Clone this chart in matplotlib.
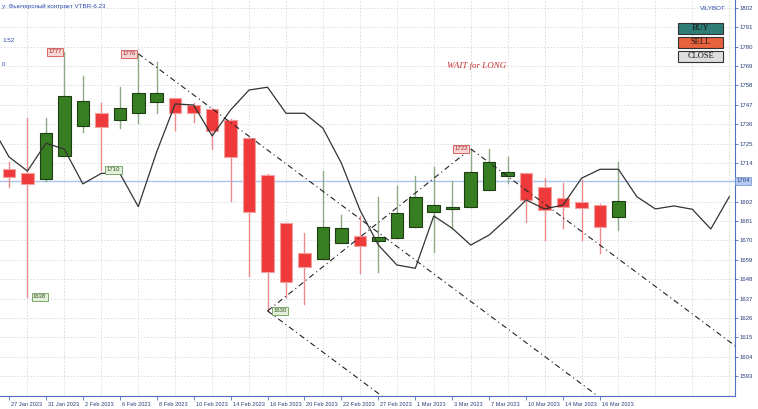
import matplotlib
matplotlib.use("Agg")
import matplotlib.pyplot as plt
from matplotlib.patches import Rectangle
import numpy as np

# ---------------- data ----------------
tick_labels = ["27 Jan 2023", "31 Jan 2023", "2 Feb 2023", "6 Feb 2023", "8 Feb 2023",
               "10 Feb 2023", "14 Feb 2023", "16 Feb 2023", "20 Feb 2023", "22 Feb 2023",
               "27 Feb 2023", "1 Mar 2023", "3 Mar 2023", "7 Mar 2023", "10 Mar 2023",
               "14 Mar 2023", "16 Mar 2023"]
opens = [1710.4, 1708.1, 1704.9, 1718.0, 1735.2, 1742.4, 1738.4, 1742.2, 1748.4, 1750.7,
         1746.9, 1744.6, 1738.4, 1728.0, 1707.2, 1679.7, 1663.0, 1659.3, 1668.4, 1672.7,
         1669.9, 1671.2, 1677.8, 1686.3, 1688.0, 1688.8, 1698.7, 1706.6, 1708.1, 1700.5,
         1693.9, 1691.7, 1690.1, 1683.5]
highs = [1714.7, 1739.4, 1739.4, 1777.0, 1763.4, 1748.2, 1757.3, 1776.0, 1771.5, 1751.0,
         1748.0, 1745.0, 1739.0, 1728.5, 1707.5, 1680.0, 1674.0, 1709.4, 1684.5, 1683.9,
         1694.8, 1700.9, 1706.8, 1711.5, 1703.8, 1722.0, 1721.8, 1717.2, 1708.5, 1705.3,
         1702.8, 1704.3, 1690.5, 1714.4]
lows = [1700.5, 1638.0, 1704.0, 1718.0, 1731.4, 1710.0, 1733.7, 1736.5, 1742.2, 1732.7,
        1737.4, 1721.8, 1692.4, 1649.8, 1630.0, 1638.1, 1633.7, 1659.3, 1668.4, 1651.4,
        1651.9, 1671.2, 1677.8, 1663.6, 1676.9, 1688.8, 1698.7, 1702.4, 1680.6, 1670.3,
        1676.9, 1670.3, 1662.7, 1675.9]
closes = [1705.9, 1702.1, 1730.8, 1752.2, 1749.4, 1734.4, 1745.4, 1753.9, 1753.9, 1742.5,
          1742.2, 1732.3, 1717.6, 1686.3, 1651.9, 1646.6, 1655.1, 1677.8, 1677.2, 1667.0,
          1672.1, 1685.4, 1694.5, 1690.1, 1689.2, 1709.0, 1714.4, 1709.0, 1693.0, 1687.3,
          1689.2, 1688.6, 1677.5, 1692.4]
# black indicator line, bar index -1 .. 39
line_values = [1736.0, 1717.4, 1709.4, 1725.2, 1721.8, 1702.1, 1708.1, 1708.1, 1689.2, 1720.4,
               1747.5, 1746.9, 1729.3, 1744.1, 1755.4, 1757.0, 1742.2, 1742.2, 1733.7, 1713.8,
               1687.3, 1667.4, 1656.1, 1654.2, 1683.9, 1676.9, 1667.4, 1673.1, 1682.6, 1693.0,
               1687.9, 1690.1, 1705.3, 1710.4, 1710.4, 1694.8, 1687.9, 1689.6, 1687.7, 1676.5,
               1694.8]
# pitchfork pivots (bar index, price) and channel slope (price per bar)
pivot_idx = [7, 14, 25]
pivot_val = [1776.0, 1630.0, 1722.0]
channel_slope = -7.81
current_price = 1704
# labelled extremes: (bar index, price, kind)
label_idx = [3, 7, 25, 5, 1, 14]
label_val = [1777, 1776, 1722, 1710, 1638, 1630]
label_kind = ["hi", "hi", "hi", "lo", "lo", "lo"]
ytick_vals = [1593, 1604, 1615, 1626, 1637, 1648, 1659, 1670, 1681, 1692, 1714, 1725,
              1736, 1747, 1758, 1769, 1780, 1791, 1802]

# ---------------- figure ----------------
W, H = 758, 409
fig = plt.figure(figsize=(W / 100, H / 100), dpi=100)
ax = fig.add_axes([0, 13 / H, 735 / W, 1 - 13 / H])
ax.set_xlim(-0.487, 39.31)
ax.set_ylim(1581.7, 1806.5)

axis_blue = "#4f6fc4"
text_blue = "#2a3f7a"
small_font = "Liberation Sans"

# grid
for v in ytick_vals:
    ax.axhline(v, color="#d9d9d9", lw=0.6, ls=(0, (2, 2)), zorder=0)
for i in range(1, 40, 2):
    ax.axvline(i, color="#d9d9d9", lw=0.6, ls=(0, (2, 2)), zorder=0)

# current price line
ax.axhline(current_price, color="#a9c3ee", lw=1.0, zorder=1)

# candles
n = len(opens)
xs = np.arange(n)
bw = 0.68
for i in range(n):
    o, h, l, c = opens[i], highs[i], lows[i], closes[i]
    up = c >= o
    if up:
        face, edge, wick = "#377d22", "#1e3d12", "#8aab84"
    else:
        face, edge, wick = "#ee3a3a", "#f4a0a0", "#ec8a8a"
    ax.plot([xs[i], xs[i]], [l, h], color=wick, lw=1.0, zorder=2)
    lo_b, hi_b = min(o, c), max(o, c)
    ax.add_patch(Rectangle((xs[i] - bw / 2, lo_b), bw, max(hi_b - lo_b, 0.8),
                           facecolor=face, edgecolor=edge, lw=0.8, zorder=3))

# indicator line
lx = np.arange(-1, len(line_values) - 1)
ax.plot(lx, line_values, color="#333333", lw=0.9, zorder=4)

# pitchfork / channel lines
dd = (0, (5, 3, 1, 3))
x_end = 39.4
for pi, pv in zip(pivot_idx, pivot_val):
    ax.plot([pi, x_end], [pv, pv + channel_slope * (x_end - pi)], color="#222222",
            lw=0.8, ls=dd, zorder=4)
ax.plot([pivot_idx[1], pivot_idx[2]], [pivot_val[1], pivot_val[2]], color="#222222",
        lw=0.8, ls=dd, zorder=4)

# labelled extremes
for i, v, k in zip(label_idx, label_val, label_kind):
    if k == "hi":
        ax.text(i - 0.15, v, str(v), fontsize=4.3, ha="right", va="center", color="#a02020",
                family=small_font,
                bbox=dict(boxstyle="square,pad=0.25", fc="#f9d6d6", ec="#d05050", lw=0.6),
                zorder=6)
    else:
        ax.text(i + 0.3, v, str(v), fontsize=4.3, ha="left", va="center", color="#335522",
                family=small_font,
                bbox=dict(boxstyle="square,pad=0.25", fc="#e3f0da", ec="#6a9a5a", lw=0.6),
                zorder=6)

# axes styling
for s in ["top", "left"]:
    ax.spines[s].set_visible(False)
ax.spines["right"].set_color(axis_blue)
ax.spines["bottom"].set_color(axis_blue)
ax.yaxis.tick_right()
ax.set_yticks(ytick_vals)
ax.set_yticklabels([str(v) for v in ytick_vals], family=small_font)
ax.tick_params(axis="y", colors=axis_blue, labelcolor=text_blue, labelsize=4.3,
               length=2, width=0.6, pad=1)
ax.set_xticks(np.arange(0, 33, 2))
ax.set_xticklabels(tick_labels, ha="left", family=small_font)
ax.tick_params(axis="x", colors=axis_blue, labelcolor=text_blue, labelsize=4.1,
               length=3, width=0.6, pad=1.5)
from matplotlib.transforms import ScaledTranslation
offset = ScaledTranslation(2 / 100, 0, fig.dpi_scale_trans)
for lab in ax.get_xticklabels():
    lab.set_transform(lab.get_transform() + offset)

# current price tag on axis
ax.text(1.002, current_price, str(current_price), transform=ax.get_yaxis_transform(),
        fontsize=4.3, ha="left", va="center", color=text_blue, family=small_font,
        bbox=dict(boxstyle="square,pad=0.25", fc="#b3cbf2", ec="#6f8fd0", lw=0.5))

# header texts
fig.text(2 / W, 1 - 6 / H, "y: Фьючерсный контракт VTBR-6.23", fontsize=4.5,
         color="#2a48b0", ha="left", va="center", family=small_font)
fig.text(2 / W, 1 - 40 / H, "1:52", fontsize=4.5, color="#2a48b0", ha="left", va="center",
         family=small_font)
fig.text(2 / W, 1 - 65 / H, "0", fontsize=4.5, color="#2a48b0", ha="left", va="center",
         family=small_font)
fig.text(700 / W, 1 - 8 / H, "VILYBOT", fontsize=4.5, color="#2a48b0", ha="left",
         va="center", family=small_font)
ax.text(477 / 735, 1 - 66 / (H - 13), "WAIT for LONG", transform=ax.transAxes,
        fontsize=6.5, color="#c83232", style="italic", family="Liberation Serif",
        ha="center", va="center")

# buttons
buttons = [("BUY", "#2f7d77", 23), ("SELL", "#e9623e", 37), ("CLOSE", "#dedede", 51)]
for name, col, ytop in buttons:
    x0, w, h = 678, 45, 11
    fig.patches.append(Rectangle((x0 / W, 1 - (ytop + h) / H), w / W, h / H,
                                 transform=fig.transFigure, facecolor=col,
                                 edgecolor="#333333", lw=0.8, zorder=10))
    fig.text((x0 + w / 2) / W, 1 - (ytop + h / 2) / H, name, fontsize=6,
             family="Liberation Serif", color="#111111", ha="center", va="center",
             zorder=11)

fig.savefig("out.png", dpi=100)
